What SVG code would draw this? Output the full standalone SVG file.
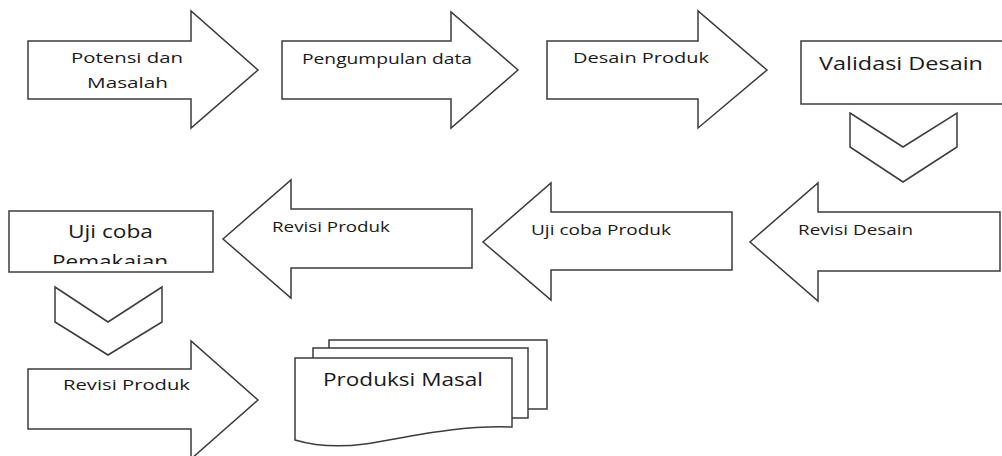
<svg xmlns="http://www.w3.org/2000/svg" width="1002" height="456" viewBox="0 0 1002 456">
<style>
.shape{fill:#ffffff;stroke:#3c3c3c;stroke-width:1.5;stroke-linejoin:miter}
.lbl{font-family:"Open Sans","DejaVu Sans",sans-serif;font-size:15px;fill:#1a1a1a}
.big{font-family:"Open Sans","DejaVu Sans",sans-serif;font-size:18px;fill:#1a1a1a}
</style>
<defs>
<clipPath id="clipUji"><rect x="9" y="211" width="204" height="53"/></clipPath>
</defs>
<rect width="1002" height="456" fill="#ffffff"/>
<g id="connectors">
<path class="shape" d="M850,113 L903,147 L957,113 V147 L903,182 L850,147 Z"/>
<path class="shape" d="M55,287 L108,322 L162,287 V322 L108,355 L55,322 Z"/>
</g>
<g id="potensi">
<path class="shape" d="M28,41 H191 V11 L258,70 L191,128 V99 H28 Z"/>
<text class="lbl" x="71" y="63" textLength="112" lengthAdjust="spacingAndGlyphs">Potensi dan</text>
<text class="lbl" x="87" y="88" textLength="81" lengthAdjust="spacingAndGlyphs">Masalah</text>
</g>
<g id="pengumpulan">
<path class="shape" d="M282,41 H451 V12 L518,70 L451,128 V99 H282 Z"/>
<text class="lbl" x="302" y="64" textLength="170" lengthAdjust="spacingAndGlyphs">Pengumpulan data</text>
</g>
<g id="desain">
<path class="shape" d="M547,41 H698 V11 L767,70 L698,128 V99 H547 Z"/>
<text class="lbl" x="573" y="63" textLength="136" lengthAdjust="spacingAndGlyphs">Desain Produk</text>
</g>
<g id="validasi">
<rect class="shape" x="801" y="41" width="210" height="63"/>
<text class="big" x="819" y="70" textLength="164" lengthAdjust="spacingAndGlyphs">Validasi Desain</text>
</g>
<g id="revisi-desain">
<path class="shape" d="M1000,212 H818 V183 L750,242 L818,301 V271 H1000 Z"/>
<text class="lbl" x="798" y="235" textLength="115" lengthAdjust="spacingAndGlyphs">Revisi Desain</text>
</g>
<g id="uji-produk">
<path class="shape" d="M732,212 H551 V183 L483,242 L551,300 V270 H732 Z"/>
<text class="lbl" x="531" y="235" textLength="140" lengthAdjust="spacingAndGlyphs">Uji coba Produk</text>
</g>
<g id="revisi-produk-1">
<path class="shape" d="M472,209 H291 V180 L223,239 L291,298 V268 H472 Z"/>
<text class="lbl" x="272" y="232" textLength="118" lengthAdjust="spacingAndGlyphs">Revisi Produk</text>
</g>
<g id="uji-pemakaian">
<rect class="shape" x="9" y="211" width="204" height="61"/>
<text class="big" x="68" y="238" textLength="85" lengthAdjust="spacingAndGlyphs">Uji coba</text>
<g clip-path="url(#clipUji)">
<text class="big" x="52" y="268" textLength="116" lengthAdjust="spacingAndGlyphs">Pemakaian</text>
</g>
</g>
<g id="revisi-produk-2">
<path class="shape" d="M28,369 H191 V341 L258,400 L191,459 V429 H28 Z"/>
<text class="lbl" x="63" y="390" textLength="127" lengthAdjust="spacingAndGlyphs">Revisi Produk</text>
</g>
<g id="produksi">
<rect class="shape" x="329" y="340" width="218" height="69"/>
<rect class="shape" x="313" y="348" width="215" height="70"/>
<path class="shape" d="M295,358 H512 V427 C455,425 405,438 365,444 C335,448 312,445 295,440 Z"/>
<text class="big" x="323" y="386" textLength="160" lengthAdjust="spacingAndGlyphs">Produksi Masal</text>
</g>
</svg>
